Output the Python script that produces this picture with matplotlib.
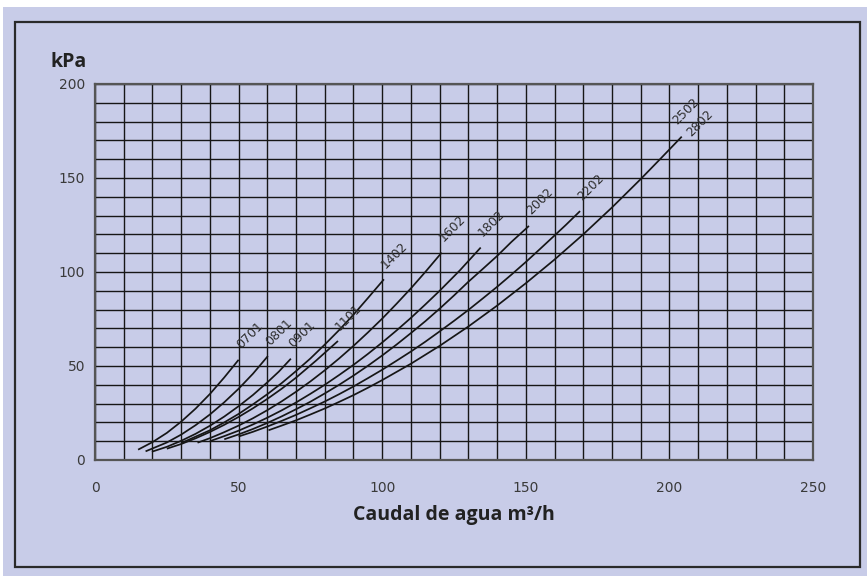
import matplotlib.pyplot as plt
from matplotlib.patches import Rectangle

BG = '#c8cce8'
INK = '#161616'

MODELS = ['0701', '0801', '0901', '1101', '1402', '1602', '1802', '2002', '2202', '2502']

# caudal (m3/h) and pérdida de carga (kPa) for each model
FLOW = [
    [15, 20, 25, 30, 35, 40, 45, 50],
    [17.6, 25, 30, 35, 40, 45, 50, 55, 60.2],
    [19.8, 25, 30, 35, 40, 45, 50, 55, 60, 64, 68.2],
    [25, 30, 35, 40, 45, 50, 55, 60, 65, 70, 77, 84.6],
    [30.3, 35, 40, 45, 50, 55, 60, 65, 70, 75, 80, 85, 90, 95, 100.6],
    [35.7, 40, 45, 50, 55, 60, 65, 70, 75, 80, 85, 90, 95, 100, 105, 110, 115, 120.7],
    [40, 45, 50, 55, 60, 65, 70, 75, 80, 85, 90, 95, 100, 105, 110, 115, 120, 127, 134.3],
    [45, 50, 55, 60, 65, 70, 75, 80, 85, 90, 95, 100, 105, 110, 115, 120, 125, 130, 135,
     140, 145, 151.1],
    [50, 55, 60, 65, 70, 75, 80, 85, 90, 95, 100, 105, 110, 115, 120, 125, 130, 135, 140,
     145, 150, 155, 160, 164, 168.9],
    [60.4, 65, 70, 75, 80, 85, 90, 95, 100, 110, 120, 130, 140, 150, 160, 170, 180, 190,
     197, 204.3],
]
DROP = [
    [5.5, 9.5, 14.4, 20.4, 27.3, 35.1, 43.9, 53.3],
    [4.6, 9.3, 13.5, 18.5, 24.2, 30.7, 37.9, 45.9, 55.3],
    [4.4, 7.0, 10.2, 13.9, 18.2, 23.1, 28.6, 34.6, 41.3, 47.0, 53.9],
    [6.0, 8.5, 11.5, 14.9, 18.7, 22.9, 27.5, 32.5, 37.9, 43.8, 52.9, 63.3],
    [9.2, 12.4, 15.8, 20.0, 24.5, 29.6, 35.0, 40.9, 47.3, 54.0, 61.4, 69.1, 77.3, 86.1, 96.1],
    [9.2, 11.6, 14.8, 18.3, 22.2, 26.5, 31.2, 36.3, 41.8, 47.7, 54.0, 60.7, 67.8, 75.2,
     83.1, 91.3, 100.0, 110.3],
    [10.0, 12.7, 15.6, 18.9, 22.5, 26.4, 30.6, 35.2, 40.0, 45.2, 50.6, 56.4, 62.5, 68.9,
     75.6, 82.7, 90.0, 100.8, 113.0],
    [11.0, 13.6, 16.5, 19.7, 23.2, 27.0, 31.0, 35.4, 40.0, 44.9, 50.1, 55.6, 61.4, 67.5,
     73.8, 80.5, 87.5, 94.8, 101.6, 108.5, 116.0, 124.5],
    [12.5, 15.0, 17.8, 20.8, 24.0, 27.5, 31.1, 35.0, 39.1, 43.5, 48.0, 52.8, 57.7, 62.9,
     68.4, 74.0, 79.8, 85.9, 92.1, 98.6, 105.3, 112.3, 119.4, 125.1, 132.4],
    [15.8, 18.3, 21.1, 24.2, 27.4, 30.9, 34.5, 38.4, 42.5, 51.2, 60.7, 71.0, 82.1, 94.0,
     106.6, 120.0, 134.3, 149.4, 160.4, 172.0],
]

# text next to the end of each curve: (label, curve index, offset in points)
TAGS = [(m, i, (3, 6)) for i, m in enumerate(MODELS[:-1])]
TAGS += [('2502', 9, (-2, 6.5)), ('2802', 9, (8, -1.5))]

fig = plt.figure(figsize=(8.67, 5.76), dpi=100)
fig.patch.set_facecolor('white')
fig.add_artist(Rectangle((0.004, 0.0), 0.996, 0.988, transform=fig.transFigure,
                         facecolor=BG, edgecolor='none', zorder=-10))
fig.add_artist(Rectangle((0.0173, 0.0156), 0.9746, 0.9462, transform=fig.transFigure,
                         facecolor='none', edgecolor='#2a2a2a', lw=1.6, zorder=-5))

ax = fig.add_axes([0.1096, 0.2014, 0.8281, 0.6528])
ax.set_facecolor(BG)
ax.set_xlim(0, 250)
ax.set_ylim(0, 200)
ax.set_xticks(range(0, 251, 50))
ax.set_yticks(range(0, 201, 50))
ax.set_xticks(range(0, 251, 10), minor=True)
ax.set_yticks(range(0, 201, 10), minor=True)
ax.grid(which='both', color=INK, lw=1.0)
ax.set_axisbelow(True)
ax.tick_params(which='both', length=0, labelsize=10, labelcolor='#3a3a3a')
ax.tick_params(axis='x', pad=15)
ax.tick_params(axis='y', pad=7)
for s in ax.spines.values():
    s.set_color('#555555')
    s.set_linewidth(1.6)

for q, dp in zip(FLOW, DROP):
    ax.plot(q, dp, color=INK, lw=1.25, solid_capstyle='butt', solid_joinstyle='round')

for name, i, off in TAGS:
    ax.annotate(name, (FLOW[i][-1], DROP[i][-1]), xytext=off, textcoords='offset points',
                rotation=45, rotation_mode='anchor', ha='left', va='bottom',
                fontsize=9, color='#2e2e2e')

ax.set_xlabel('Caudal de agua m³/h', fontsize=14, fontweight='bold',
              family='Open Sans', color='#222222', labelpad=7)
fig.text(0.058, 0.875, 'kPa', fontsize=14, fontweight='bold', family='Open Sans',
         color='#222222', ha='left', va='bottom')

fig.savefig('out.png', dpi=100, facecolor=fig.get_facecolor())
